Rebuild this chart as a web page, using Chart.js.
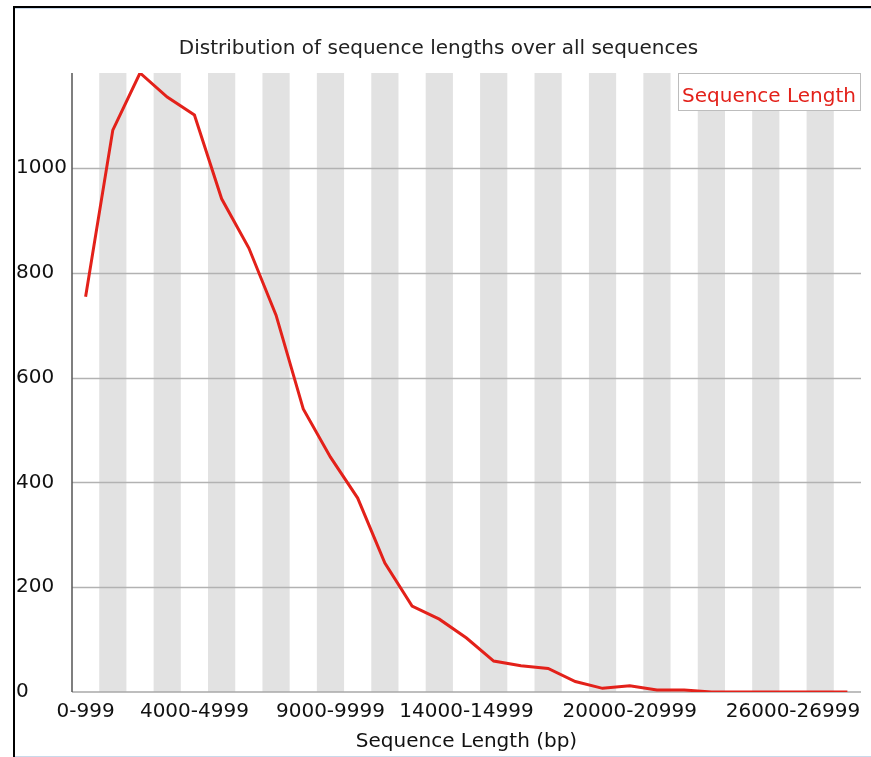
<!DOCTYPE html>
<html>
<head>
<meta charset="utf-8">
<script src="https://cdn.jsdelivr.net/npm/chart.js@4"></script>
<style>
  html, body { margin: 0; padding: 0; background: #fff; }
  #wrap { position: relative; width: 871px; height: 757px; }
  #frame {
    position: absolute; left: 13px; top: 6px; right: 0; bottom: 0;
    border-left: 2px solid #000; border-top: 2px solid #000;
    box-shadow: inset 0 1px 0 #c9d9ea, inset 0 -1px 0 #c9d9ea;
    pointer-events: none;
  }
</style>
</head>
<body>
<div id="wrap">
  <canvas id="lenChart" width="871" height="757"></canvas>
  <div id="frame"></div>
</div>
<script>
const lengthBins = [
  '0-999', '1000-1999', '2000-2999', '3000-3999', '4000-4999', '5000-5999',
  '6000-6999', '7000-7999', '8000-8999', '9000-9999', '10000-10999',
  '11000-11999', '12000-12999', '13000-13999', '14000-14999', '15000-15999',
  '16000-16999', '17000-17999', '18000-18999', '19000-19999', '20000-20999',
  '21000-21999', '22000-22999', '23000-23999', '24000-24999', '25000-25999',
  '26000-26999', '27000-27999', '28000-28999'
];
const seqCounts = [
  754, 1072, 1181, 1135, 1101, 941, 847, 719, 540, 448, 370,
  246, 164, 139, 103, 59, 50, 45, 20, 7, 12, 4, 4, 0,
  0, 0, 0, 0, 0
];
const shownBins = ['0-999', '4000-4999', '9000-9999', '14000-14999', '20000-20999', '26000-26999'];
const yTicks = [0, 200, 400, 600, 800, 1000];
const seriesName = 'Sequence Length';

const FONT = 'DejaVu Sans';
const FSIZE = 20;
const lineRed = '#e3211a';

// alternating grey columns behind every second bin
const stripes = {
  id: 'stripes',
  beforeDatasetsDraw(chart) {
    const { ctx, chartArea: a, scales: { x } } = chart;
    const w = x.getPixelForValue(1) - x.getPixelForValue(0);
    ctx.save();
    ctx.fillStyle = '#e2e2e2';
    for (let i = 1; i < lengthBins.length; i += 2) {
      const c = x.getPixelForValue(i);
      ctx.fillRect(c - w / 2, a.top, w, a.bottom - a.top);
    }
    ctx.restore();
  }
};

// grid lines on top of the stripes, then the boxed legend
const overlay = {
  id: 'overlay',
  beforeDatasetsDraw(chart) {
    const { ctx, chartArea: a, scales: { y } } = chart;
    ctx.save();
    ctx.strokeStyle = '#b2b2b2';
    ctx.lineWidth = 1.5;
    yTicks.forEach(v => {
      if (v === 0) return;
      const py = Math.round(y.getPixelForValue(v)) + 0.5;
      ctx.beginPath(); ctx.moveTo(a.left, py); ctx.lineTo(a.right, py); ctx.stroke();
    });
    ctx.strokeStyle = '#a8a8a8';
    ctx.beginPath(); ctx.moveTo(a.left, a.bottom); ctx.lineTo(a.right, a.bottom); ctx.stroke();
    ctx.strokeStyle = '#555';
    ctx.beginPath(); ctx.moveTo(a.left, a.top); ctx.lineTo(a.left, a.bottom); ctx.stroke();
    ctx.restore();
  },
  afterDatasetsDraw(chart) {
    const { ctx, chartArea: a } = chart;
    ctx.save();
    ctx.font = FSIZE + 'px "' + FONT + '"';
    const tw = ctx.measureText(seriesName).width;
    const bw = tw + 9, bh = 38;
    const bx = a.right - bw, by = a.top;
    ctx.fillStyle = '#fff';
    ctx.fillRect(bx, by, bw, bh);
    ctx.strokeStyle = '#bdbdbd';
    ctx.lineWidth = 1;
    ctx.strokeRect(bx + 0.5, by + 0.5, bw - 1, bh - 1);
    ctx.fillStyle = lineRed;
    ctx.textBaseline = 'middle';
    ctx.fillText(seriesName, bx + 4, by + 24);
    ctx.restore();
  }
};

new Chart(document.getElementById('lenChart'), {
  type: 'line',
  data: {
    labels: lengthBins,
    datasets: [{
      label: seriesName,
      data: seqCounts,
      borderColor: lineRed,
      borderWidth: 3,
      pointRadius: 0,
      tension: 0,
      fill: false
    }]
  },
  options: {
    responsive: false,
    animation: false,
    layout: { padding: { left: 16, right: 10, top: 0, bottom: 0 } },
    plugins: {
      legend: { display: false },
      tooltip: { enabled: false },
      title: {
        display: true,
        text: 'Distribution of sequence lengths over all sequences',
        color: '#222',
        font: { family: FONT, size: FSIZE, weight: 'normal' },
        padding: { top: 37, bottom: 12 }
      }
    },
    scales: {
      x: {
        offset: true,
        grid: { display: false, drawTicks: false },
        border: { display: false },
        afterFit(s) { s.height = 65; },
        ticks: {
          autoSkip: false,
          maxRotation: 0,
          padding: 8,
          color: '#111',
          font: { family: FONT, size: FSIZE },
          callback(v) {
            const lab = lengthBins[v];
            return shownBins.includes(lab) ? lab : '';
          }
        },
        title: {
          display: true,
          text: 'Sequence Length (bp)',
          color: '#111',
          font: { family: FONT, size: FSIZE },
          padding: { top: 0, bottom: 3 }
        }
      },
      y: {
        min: 0,
        max: Math.max(...seqCounts),
        grid: { display: false, drawTicks: false },
        border: { display: false },
        afterFit(s) { s.width = 56; },
        afterBuildTicks(s) { s.ticks = yTicks.map(v => ({ value: v })); },
        ticks: {
          crossAlign: 'far',
          color: '#111',
          font: { family: FONT, size: FSIZE },
          callback: v => String(v)
        }
      }
    }
  },
  plugins: [stripes, overlay]
});
</script>
</body>
</html>
